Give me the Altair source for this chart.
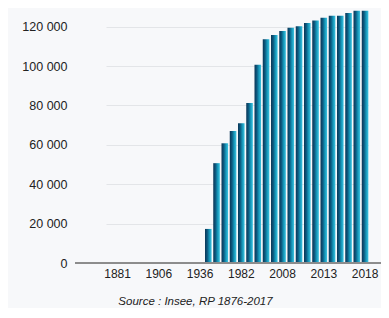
import altair as alt
import pandas as pd

years = ["1876", "1881", "1886", "1891", "1896", "1901", "1906", "1911", "1921", "1926",
         "1931", "1936", "1954", "1962", "1968", "1975", "1982", "1990", "1999", "2006",
         "2007", "2008", "2009", "2010", "2011", "2012", "2013", "2014", "2015", "2016",
         "2017", "2018"]
population = [0, 0, 0, 0, 0, 0, 0, 0, 0, 0,
              0, 0, 17300, 50700, 60800, 67100, 71000, 81200, 100700, 113600,
              115800, 117800, 119500, 120200, 121900, 123200, 124600, 125600, 125600, 127000,
              128100, 128100]
x_labels = ["1881", "1906", "1936", "1982", "2008", "2013", "2018"]
y_ticks = [0, 20000, 40000, 60000, 80000, 100000, 120000]
source_note = "Source : Insee, RP 1876-2017"

df = pd.DataFrame({"year": years, "value": population})

bar_fill = alt.Gradient(
    gradient="linear", x1=0, x2=1, y1=0, y2=0,
    stops=[
        alt.GradientStop(color="#0a3656", offset=0),
        alt.GradientStop(color="#0d5a80", offset=0.35),
        alt.GradientStop(color="#1595b7", offset=0.65),
        alt.GradientStop(color="#3cc4e2", offset=1),
    ],
)

bars = alt.Chart(df).mark_bar(color=bar_fill).encode(
    x=alt.X(
        "year:N",
        sort=years,
        scale=alt.Scale(domain=years, paddingInner=0.2, paddingOuter=0, range=[31.0, 293.35]),
        axis=alt.Axis(
            values=x_labels, labelAngle=0, ticks=False, labelPadding=5,
            domain=False, grid=False,
            labelFontSize=12, labelColor="#222222", labelFont="Liberation Sans",
            title=source_note, titleFontStyle="italic", titleFontWeight="normal",
            titleFontSize=11.5, titleColor="#222222", titleFont="Liberation Sans",
            titleX=120, titleY=38, titleAlign="center", titleBaseline="middle",
        ),
    ),
    y=alt.Y(
        "value:Q",
        scale=alt.Scale(domain=[0, 129000], nice=False),
        axis=alt.Axis(
            values=y_ticks,
            labelExpr="replace(format(datum.value, ','), ',', ' ')",
            ticks=False, domain=False, grid=True, gridColor="#e3e5e8", gridWidth=1,
            labelPadding=8, labelFontSize=12.5, labelColor="#222222",
            labelFont="Liberation Sans", title=None,
        ),
    ),
)

zero_line = alt.Chart(df).mark_rule(color="#8c8c8c", strokeWidth=1).encode(
    y=alt.datum(0)
)

chart = alt.layer(bars, zero_line).properties(
    width=306,
    height=254,
    background="#f7f8fa",
    padding={"left": 67, "top": 1, "right": 0, "bottom": 45},
    autosize="none",
).configure_view(stroke=None)

chart.save("out.html", embed_options={"renderer": "svg", "actions": False})
